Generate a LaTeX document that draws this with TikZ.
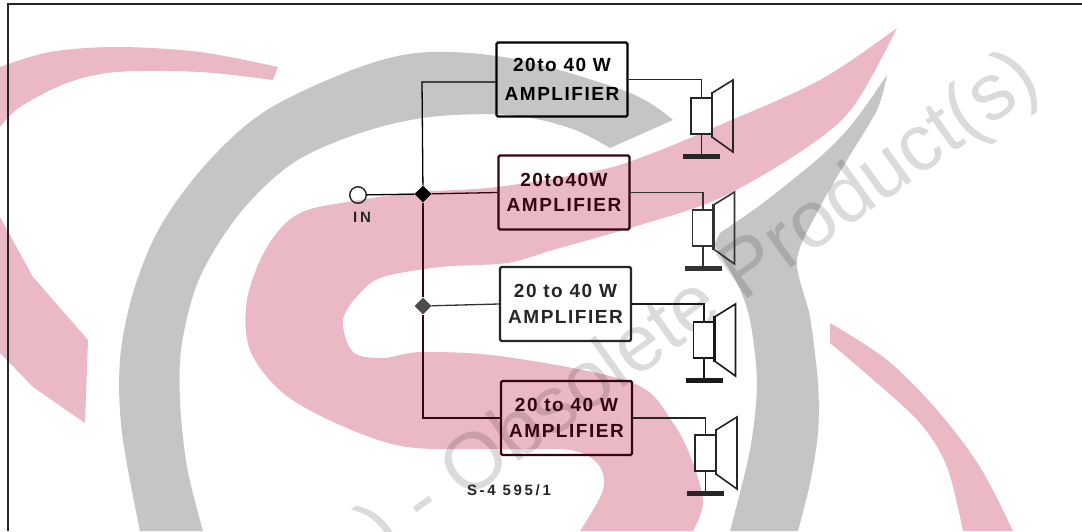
\documentclass[tikz,border=0pt]{standalone}
\usepackage{fontspec}
\setmainfont{Liberation Sans}
\newfontfamily\lab[LetterSpace=8]{Liberation Sans}
\newfontfamily\codefont[LetterSpace=18]{Liberation Sans}
\usetikzlibrary{shapes.geometric}
\definecolor{wmpink}{HTML}{EBB9C5}
\definecolor{wmgray}{HTML}{C4C5C4}
\definecolor{maroon}{HTML}{35060F}
\tikzset{
  x=1pt,y=-1pt,
  pinkshape/.style={fill=wmpink,draw=none},
  grayshape/.style={fill=wmgray,draw=none},
  ampbox/.style={draw=#1,line width=2.4pt,rounded corners=1.5pt,fill=none,minimum width=131pt,minimum height=74pt,align=center,inner sep=0pt,text=#1,font=\lab\bfseries\fontsize{19}{25.5}\selectfont},
  wire/.style={draw=#1,line width=1.3pt},
  wire/.default=black,
  junct/.style={diamond,fill=#1,minimum width=17pt,minimum height=17pt,inner sep=0pt},
  coilbox/.style={draw=#1,line width=1.5pt,minimum width=21pt,minimum height=36pt,inner sep=0pt,fill=white},
  smalltext/.style={font=\codefont\bfseries\fontsize{15}{15}\selectfont,inner sep=0pt,text=black!85},
}
\newcommand{\speakerunit}[5]{% x, y, name, colour, amp
  \begin{scope}[shift={(#1,#2)}]
    \node[coilbox=#4] (#3coil) at (-0.5,37) {};
    \coordinate (#3basel) at (-19,77);
    \coordinate (#3baser) at (18,77);
    \coordinate (#3stem) at (-0.5,77);
    \draw[#4,line width=1.6pt,line join=miter] (10,14) -- (31,1) -- (31,73) -- (10,58);
    \draw[#4,line width=2.6pt] (10,13) -- (10,59);
    \draw[#4,line width=5pt] (#3basel) -- (#3baser);
    \draw[wire=#4] (#3coil.south) -- (#3stem);
  \end{scope}
  \draw[wire=#4] (#5.east) -| (#3coil.north);
}
\begin{document}
\begin{tikzpicture}
\path[use as bounding box,fill=white] (0,0) rectangle (1082,531);
% watermark shapes
\fill[grayshape] plot[smooth,tension=.55] coordinates {(140,531) (122,433) (120,360) (133,293) (160,227) (207,163) (267,110) (360,67) (430,52) (520,60) (630,93) (673,120)}
  -- plot[smooth,tension=.55] coordinates {(610,148) (570,128) (510,115) (430,117) (360,133) (293,163) (240,213) (200,277) (182,343) (180,400) (187,467) (203,531)} -- cycle;
\fill[grayshape] plot[smooth,tension=.5] coordinates {(887,75) (877,110) (847,160) (820,207) (797,260) (810,317) (818,383) (818,433) (810,483) (798,531)}
  -- plot[smooth,tension=.5] coordinates {(730,531) (750,450) (757,383) (750,320) (737,283) (714,245)}
  -- plot[smooth,tension=.5] coordinates {(720,233) (763,203) (820,157) (853,123) (887,75)} -- cycle;
\fill[pinkshape] plot[smooth,tension=.55] coordinates {(897,28) (820,80) (720,125) (653,153) (600,170) (497,187) (420,192) (360,200) (300,213) (267,247) (247,300) (250,350) (283,393) (340,425) (407,447) (500,449) (570,450) (598,464) (603,490) (580,531)}
  -- plot[smooth,tension=.55] coordinates {(693,531) (703,503) (693,463) (673,423) (633,383) (507,357) (423,352) (383,358) (353,352) (343,320) (360,293) (383,277) (440,267) (507,263) (553,250) (640,225) (720,198) (803,150) (853,107) (897,28)} -- cycle;
\fill[pinkshape] plot[smooth,tension=.55] coordinates {(0,67) (50,52) (117,47) (200,52) (278,67)}
  -- plot[smooth,tension=.55] coordinates {(273,80) (200,72) (117,72) (67,83) (20,107) (0,127)} -- cycle;
\fill[pinkshape] (0,217) -- (33,277) -- (88,340) -- (85,423) -- (33,387) -- (0,353) -- cycle;
\fill[pinkshape] plot[smooth,tension=.55] coordinates {(830,323) (887,360) (937,410) (980,467) (1013,531)}
  -- plot[smooth,tension=.55] coordinates {(963,531) (947,467) (920,423) (870,377) (830,343)} -- cycle;
\node[rotate=35.5,text=black,text opacity=.14,font=\fontsize{80}{80}\selectfont,inner sep=0pt,anchor=center] (wm) at (702,306) {) - Obsolete Product(s)};
% frame
\coordinate (ftl) at (8,4);
\coordinate (ftr) at (1082,4);
\coordinate (fbl) at (8,531);
\draw[black!85,line width=1.6pt] (fbl) -- (ftl) -- (ftr);
% amplifiers
\node[ampbox=black] (a1) at (562,79.5) {20to 40 W\\[3pt]AMPLIFIER};
\node[ampbox=maroon] (a2) at (564,192.5) {20to40W\\[-1pt]AMPLIFIER};
\node[ampbox=black!85] (a3) at (565.5,304) {20 to 40 W\\AMPLIFIER};
\node[ampbox=maroon] (a4) at (566.5,418) {20 to 40 W\\AMPLIFIER};
% input and bus
\node[circle,draw=black!85,line width=1.4pt,minimum size=16.5pt,inner sep=0pt] (in) at (358,195) {};
\node[smalltext] (inlabel) at (362,217) {IN};
\node[junct=black] (j1) at (423,194) {};
\node[junct=black!70] (j2) at (423,306) {};
\coordinate (c1) at (422,82);
\coordinate (c4) at (423,418);
\coordinate (a1in) at (a1.west |- c1);
\draw[wire] (in) -- (j1);
\draw[wire=maroon] (j1) -- (a2.west);
\draw[wire] (a1in) -- (c1) -- (j1);
\draw[wire=maroon] (j1) -- (j2);
\draw[wire=black!80] (j2) -- (a3.west);
\draw[wire=maroon] (j2) -- (c4) -- (a4.west);
% speakers
\speakerunit{702}{79}{s1}{black!85}{a1}
\speakerunit{703.5}{191}{s2}{black!80}{a2}
\speakerunit{704.5}{303}{s3}{black!90}{a3}
\speakerunit{706}{416}{s4}{black!85}{a4}
\node[smalltext] (code) at (509,490) {S-4 595/1};
\end{tikzpicture}
\end{document}
